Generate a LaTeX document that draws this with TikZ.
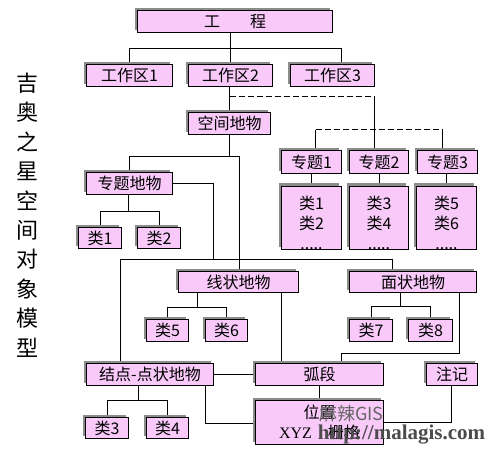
\documentclass[tikz,border=0pt]{standalone}
\usepackage{fontspec}
\setmainfont{Noto Sans CJK SC}
\newfontfamily\latinserif{Liberation Serif}
\usetikzlibrary{shadows,backgrounds}
\definecolor{boxpink}{RGB}{249,202,249}
\definecolor{shadowgray}{RGB}{140,140,140}

\begin{document}
\begin{tikzpicture}[x=1pt,y=-1pt,line width=1.1pt,
  box/.style={draw,fill=boxpink,inner sep=0pt,font=\fontsize{16}{20}\selectfont,
    drop shadow={shadow xshift=-3pt,shadow yshift=3pt,fill=shadowgray,opacity=1}},
  bx/.style 2 args={box,minimum width=#1pt,minimum height=#2pt},
  dashline/.style={dash pattern=on 6pt off 3pt}]
  \useasboundingbox (0,0) rectangle (500,456);
  \begin{scope}[shift={(0.5,0.5)}]

  % title down the left side
  \node[font=\fontsize{22}{29.4}\selectfont,align=center,inner sep=0pt] (title) at (27,214.5)
    {吉\\奥\\之\\星\\空\\间\\对\\象\\模\\型};

  % boxes
  \node[bx={195}{22}] (gc) at (234.5,21) {工\hspace{30pt}程};
  \node[bx={86}{22}] (wa1) at (129,75) {工作区1};
  \node[bx={84}{22}] (wa2) at (230,75) {工作区2};
  \node[bx={84}{22}] (wa3) at (332,75) {工作区3};
  \node[bx={82}{22}] (kj) at (229,123) {空间地物};
  \node[bx={60}{23}] (zt1) at (311,161.5) {专题1};
  \node[bx={59}{23}] (zt2) at (378.5,161.5) {专题2};
  \node[bx={60}{23}] (zt3) at (447,161.5) {专题3};
  \node[bx={60}{59},align=center] (la) at (311,217.5) {\rule{0pt}{23pt}类1\\类2\\.....};
  \node[bx={59}{59},align=center] (lb) at (378.5,217.5) {\rule{0pt}{23pt}类3\\类4\\.....};
  \node[bx={60}{59},align=center] (lc) at (446,217.5) {\rule{0pt}{23pt}类5\\类6\\.....};
  \node[bx={86}{22}] (ztdw) at (129,183) {专题地物};
  \node[bx={43}{21}] (c1) at (99.5,237.5) {类1};
  \node[bx={43}{21}] (c2) at (158.5,237.5) {类2};
  \node[bx={120}{21}] (xz) at (238,281.5) {线状地物};
  \node[bx={42}{22}] (c5) at (167,330) {类5};
  \node[bx={42}{22}] (c6) at (226,330) {类6};
  \node[bx={127}{21}] (mz) at (412.5,281.5) {面状地物};
  \node[bx={43}{22}] (c7) at (370.5,330) {类7};
  \node[bx={44}{22}] (c8) at (430,330) {类8};
  \node[bx={127}{22}] (jd) at (149.5,374) {结点-点状地物};
  \node[bx={43}{21}] (c3) at (106.5,427.5) {类3};
  \node[bx={42}{21}] (c4) at (167,427.5) {类4};
  \node[bx={128}{22}] (hd) at (319,374) {弧段};
  \node[bx={128}{44},align=center] (wz) at (319,422) {位置\\{\latinserif XYZ}\quad 栅格};
  \node[bx={51}{22}] (zj) at (451.5,374) {注记};

  % bend points
  \coordinate (bus0) at (341,48);
  \coordinate (d0) at (374,96);
  \coordinate (d1) at (315,129);
  \coordinate (d2) at (442,129);
  \coordinate (s0) at (128,156);
  \coordinate (s1) at (239,156);
  \coordinate (u0) at (128,211);
  \coordinate (v0) at (213,259);
  \coordinate (v1) at (120,259);
  \coordinate (v2) at (392,259);
  \coordinate (w0) at (197,307);
  \coordinate (x0) at (281,300);
  \coordinate (y0) at (400,306);
  \coordinate (z0) at (459,353);
  \coordinate (z1) at (341,353);
  \coordinate (p0) at (138,400);
  \coordinate (q0) at (205,423);
  \coordinate (r0) at (451,422);

  \begin{pgfonlayer}{background}
    \draw (wa2) -- (wa2 |- gc);
    \draw (wa1) |- (bus0) -- (bus0 |- wa3);
    \draw (kj) -- (kj |- wa2);
    \draw[dashline] (d0 -| kj) -- (d0);
    \draw (d0) -- (d0 |- zt2);
    \draw[dashline] (d1) -- (d2);
    \draw (d1) -- (d1 |- zt1);
    \draw (d2) -- (d2 |- zt3);
    \draw (zt1) -- (la);
    \draw (zt2) -- (lb);
    \draw (lc |- zt3) -- (lc);
    \draw (kj) -- (kj |- s0);
    \draw (ztdw) |- (s1) -- (s1 |- xz);
    \draw (u0 |- ztdw) -- (u0);
    \draw (c1) |- (u0) -| (c2);
    \draw (ztdw) -| (v0);
    \draw (v1 |- jd) -- (v1) -- (v2) -- (v2 |- mz);
    \draw (w0 |- xz) -- (w0);
    \draw (c5) |- (w0) -| (c6);
    \draw (x0 |- xz) -- (x0 |- hd);
    \draw (y0 |- mz) -- (y0);
    \draw (c7) |- (y0) -| (c8);
    \draw (z0 |- mz) -- (z0) -- (z1) -- (z1 |- hd);
    \draw (p0 |- jd) -- (p0);
    \draw (c3) |- (p0) -| (c4);
    \draw (jd) -- (hd);
    \draw (q0 |- jd) -- (q0) -- (q0 -| wz.west);
    \draw (hd) -- (wz);
    \draw (r0 |- zj) -- (r0) -- (r0 -| wz.east);
  \end{pgfonlayer}

  % watermark over the bottom box
  \node[text=black!60,font=\fontsize{18}{18}\selectfont] (mark1) at (351,413) {麻辣GIS};
  \node[text=black!70,font=\latinserif\bfseries\fontsize{21}{21}\selectfont] (mark2) at (401,434) {http://malagis.com};
  \end{scope}
\end{tikzpicture}
\end{document}
